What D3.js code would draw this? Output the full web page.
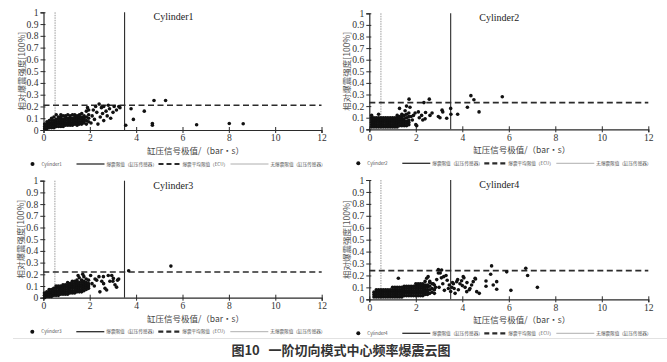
<!DOCTYPE html>
<html>
<head>
<meta charset="utf-8">
<script src="https://cdn.jsdelivr.net/npm/d3@7"></script>
<style>
  body { margin: 0; background: #fff; }
  svg { display: block; }
</style>
</head>
<body>
<svg width="667" height="362"></svg>
<script>
// cylinder names and threshold values per cylinder
const cylinders = ["Cylinder1", "Cylinder2", "Cylinder3", "Cylinder4"];
const knockLimitCPS = [3.5, 3.5, 3.5, 3.5];      // 爆震限值（缸压传感器）
const ecuMeanLimit = [0.21, 0.23, 0.22, 0.24];    // 爆震平均限值（ECU）
const noKnockLimit = [0.5, 0.5, 0.5, 0.5];        // 无爆震限值（缸压传感器）

const xTicks = [0, 2, 4, 6, 8, 10, 12];
const yTicks = [0, 0.1, 0.2, 0.3, 0.4, 0.5, 0.6, 0.7, 0.8, 0.9, 1];
const yTickLabels = ["0", "0.1", "0.2", "0.3", "0.4", "0.5", "0.6", "0.7", "0.8", "0.9", "1"];

const legendLabels = ["爆震限值（缸压传感器）", "爆震平均限值（ECU）", "无爆震限值（缸压传感器）"];

// dense part of each cloud, one entry per column: [x, y, y, y ...]
const cyl1Cols = [
  [0.05, 0.01, 0.03, 0.05], [0.15, 0.01, 0.03, 0.05, 0.07], [0.25, 0.02, 0.04, 0.06, 0.08],
  [0.35, 0.02, 0.04, 0.06, 0.08, 0.10], [0.45, 0.02, 0.04, 0.06, 0.08, 0.11],
  [0.55, 0.03, 0.05, 0.07, 0.09, 0.13], [0.65, 0.03, 0.05, 0.07, 0.09, 0.11],
  [0.75, 0.03, 0.05, 0.07, 0.09, 0.11, 0.13], [0.85, 0.03, 0.05, 0.07, 0.09, 0.12],
  [0.95, 0.04, 0.06, 0.08, 0.10, 0.12], [1.05, 0.04, 0.06, 0.08, 0.10, 0.13],
  [1.15, 0.04, 0.06, 0.08, 0.10, 0.12], [1.25, 0.04, 0.06, 0.08, 0.10, 0.13],
  [1.35, 0.05, 0.07, 0.09, 0.11, 0.13], [1.45, 0.04, 0.06, 0.08, 0.10, 0.12],
  [1.55, 0.05, 0.07, 0.09, 0.11, 0.13], [1.65, 0.05, 0.07, 0.09, 0.11, 0.14],
  [1.75, 0.06, 0.08, 0.10, 0.12], [1.85, 0.05, 0.08, 0.11, 0.16], [1.95, 0.07, 0.10, 0.13, 0.17]
];
const cyl1Pts = [
  [1.9, 0.19], [2.05, 0.06], [2.1, 0.12], [2.15, 0.17], [2.2, 0.09], [2.25, 0.2], [2.3, 0.15],
  [2.35, 0.05], [2.4, 0.22], [2.45, 0.11], [2.5, 0.19], [2.55, 0.14], [2.6, 0.08], [2.6, 0.2],
  [2.7, 0.16], [2.75, 0.12], [2.8, 0.21], [2.85, 0.18], [2.9, 0.1], [3.0, 0.15], [3.05, 0.2],
  [3.15, 0.17], [3.25, 0.2], [3.3, 0.19], [3.55, 0.04], [3.78, 0.18], [3.88, 0.09], [4.35, 0.16],
  [4.77, 0.25], [5.27, 0.25], [4.7, 0.055], [4.7, 0.04], [6.61, 0.045], [8.02, 0.055], [8.62, 0.053]
];

const cyl2Cols = [
  [0.1, 0.02, 0.04, 0.06, 0.08, 0.10, 0.12], [0.2, 0.02, 0.04, 0.06, 0.08, 0.10],
  [0.3, 0.02, 0.04, 0.06, 0.08, 0.10], [0.4, 0.02, 0.04, 0.06, 0.08, 0.10, 0.13],
  [0.5, 0.02, 0.04, 0.06, 0.08, 0.10], [0.6, 0.02, 0.04, 0.06, 0.08, 0.10],
  [0.7, 0.02, 0.04, 0.06, 0.08, 0.10], [0.8, 0.02, 0.04, 0.06, 0.08, 0.10],
  [0.9, 0.02, 0.04, 0.06, 0.08, 0.10], [1.0, 0.02, 0.04, 0.06, 0.08, 0.10],
  [1.1, 0.02, 0.04, 0.06, 0.08, 0.10], [1.2, 0.02, 0.04, 0.06, 0.08, 0.10, 0.12],
  [1.3, 0.03, 0.05, 0.07, 0.09, 0.11, 0.18], [1.4, 0.03, 0.05, 0.07, 0.09, 0.11, 0.13],
  [1.5, 0.03, 0.05, 0.07, 0.09, 0.12], [1.6, 0.03, 0.05, 0.07, 0.10, 0.13],
  [1.7, 0.04, 0.06, 0.08, 0.11, 0.14]
];
const cyl2Pts = [
  [1.54, 0.16], [1.6, 0.2], [1.71, 0.26], [1.75, 0.19], [1.8, 0.11], [1.85, 0.08], [1.9, 0.12],
  [1.97, 0.14], [2.0, 0.04], [2.04, 0.03], [2.11, 0.15], [2.15, 0.1], [2.25, 0.12], [2.3, 0.08],
  [2.35, 0.23], [2.4, 0.09], [2.42, 0.145], [2.58, 0.26], [2.61, 0.12], [2.7, 0.14], [2.97, 0.11],
  [3.04, 0.1], [3.13, 0.165], [3.16, 0.15], [3.33, 0.095], [3.5, 0.18], [3.51, 0.13], [3.8, 0.13],
  [4.22, 0.19], [4.37, 0.29], [4.5, 0.255], [4.72, 0.15], [5.72, 0.28]
];

const cyl3Cols = [
  [0.05, 0.0, 0.02, 0.04], [0.15, 0.01, 0.03, 0.05], [0.25, 0.01, 0.03, 0.05, 0.07],
  [0.35, 0.01, 0.03, 0.05, 0.07], [0.45, 0.02, 0.04, 0.06, 0.08],
  [0.55, 0.02, 0.04, 0.06, 0.08, 0.10], [0.65, 0.02, 0.04, 0.06, 0.08, 0.10],
  [0.75, 0.03, 0.05, 0.07, 0.09, 0.10], [0.85, 0.03, 0.05, 0.07, 0.09, 0.11],
  [0.95, 0.03, 0.05, 0.07, 0.09, 0.11], [1.05, 0.03, 0.05, 0.07, 0.09, 0.11, 0.13],
  [1.15, 0.04, 0.06, 0.08, 0.10, 0.12], [1.25, 0.04, 0.06, 0.08, 0.10, 0.12, 0.14],
  [1.35, 0.04, 0.06, 0.08, 0.10, 0.12, 0.14], [1.45, 0.05, 0.07, 0.09, 0.11, 0.13, 0.15],
  [1.55, 0.05, 0.07, 0.09, 0.11, 0.13, 0.17], [1.65, 0.05, 0.07, 0.09, 0.11, 0.13, 0.15],
  [1.75, 0.06, 0.08, 0.10, 0.12, 0.14, 0.18], [1.85, 0.07, 0.09, 0.11, 0.13, 0.16],
  [1.95, 0.08, 0.10, 0.12, 0.15]
];
const cyl3Pts = [
  [1.5, 0.19], [1.7, 0.2], [2.04, 0.19], [2.1, 0.12], [2.2, 0.1], [2.23, 0.16], [2.3, 0.15],
  [2.4, 0.18], [2.44, 0.05], [2.52, 0.14], [2.59, 0.18], [2.6, 0.12], [2.66, 0.08], [2.73, 0.066],
  [2.8, 0.19], [2.87, 0.14], [2.95, 0.19], [3.0, 0.14], [3.02, 0.165], [3.09, 0.11], [3.16, 0.09],
  [3.2, 0.15], [3.25, 0.16], [3.68, 0.23], [5.5, 0.27]
];

const cyl4Cols = [
  [0.2, 0.02, 0.04, 0.06], [0.3, 0.02, 0.04, 0.06, 0.08], [0.4, 0.02, 0.04, 0.06, 0.08],
  [0.5, 0.02, 0.04, 0.06, 0.08], [0.6, 0.02, 0.04, 0.06, 0.08], [0.7, 0.02, 0.04, 0.06, 0.08],
  [0.8, 0.02, 0.04, 0.06, 0.08], [0.9, 0.02, 0.04, 0.06, 0.08],
  [1.0, 0.02, 0.04, 0.06, 0.08, 0.10], [1.1, 0.02, 0.04, 0.06, 0.08, 0.10],
  [1.2, 0.02, 0.04, 0.06, 0.08, 0.10], [1.3, 0.02, 0.04, 0.06, 0.08, 0.10],
  [1.4, 0.02, 0.04, 0.06, 0.08, 0.10], [1.5, 0.03, 0.05, 0.07, 0.09, 0.11],
  [1.6, 0.03, 0.05, 0.07, 0.09, 0.11], [1.7, 0.03, 0.05, 0.07, 0.09, 0.11],
  [1.8, 0.03, 0.05, 0.07, 0.09, 0.11], [1.9, 0.03, 0.05, 0.07, 0.09, 0.11],
  [2.0, 0.03, 0.05, 0.07, 0.09, 0.11, 0.13], [2.1, 0.03, 0.05, 0.07, 0.09, 0.11, 0.13],
  [2.2, 0.03, 0.05, 0.07, 0.09, 0.11, 0.13], [2.3, 0.03, 0.05, 0.07, 0.09, 0.11, 0.13],
  [2.4, 0.04, 0.06, 0.08, 0.10, 0.12], [2.5, 0.04, 0.06, 0.08, 0.10, 0.12],
  [2.6, 0.05, 0.08, 0.11, 0.15], [2.7, 0.06, 0.09, 0.13], [2.8, 0.05, 0.08, 0.12]
];
const cyl4Pts = [
  [1.25, 0.176], [2.4, 0.15], [2.47, 0.176], [2.53, 0.19], [2.6, 0.14], [2.75, 0.13], [2.85, 0.1],
  [2.9, 0.165], [2.97, 0.22], [2.97, 0.25], [3.0, 0.1], [3.05, 0.22], [3.1, 0.18], [3.11, 0.245],
  [3.16, 0.13], [3.2, 0.19], [3.23, 0.075], [3.3, 0.2], [3.35, 0.16], [3.4, 0.09], [3.44, 0.12],
  [3.5, 0.065], [3.55, 0.1], [3.58, 0.14], [3.62, 0.13], [3.65, 0.09], [3.69, 0.05], [3.76, 0.148],
  [3.8, 0.165], [3.83, 0.08], [3.9, 0.13], [3.97, 0.156], [4.0, 0.115], [4.04, 0.19], [4.07, 0.18],
  [4.12, 0.1], [4.19, 0.064], [4.2, 0.14], [4.3, 0.08], [4.33, 0.09], [4.4, 0.12], [4.47, 0.148],
  [4.55, 0.176], [4.57, 0.17], [4.62, 0.064], [4.73, 0.05], [5.02, 0.153], [5.02, 0.11],
  [5.22, 0.21], [5.26, 0.28], [5.33, 0.12], [5.48, 0.148], [5.48, 0.084], [5.91, 0.23],
  [6.09, 0.075], [6.73, 0.26], [6.81, 0.2], [7.23, 0.1]
];

const allCols = [cyl1Cols, cyl2Cols, cyl3Cols, cyl4Cols];
const allPts = [cyl1Pts, cyl2Pts, cyl3Pts, cyl4Pts];

// panel frames in page pixels (plot area only)
const frames = [
  { left: 43.5, right: 321.5, bottom: 130, top: 12.3 },
  { left: 369.3, right: 648.3, bottom: 129.3, top: 13.3 },
  { left: 43.3, right: 321.7, bottom: 297.7, top: 180.7 },
  { left: 369.3, right: 648.3, bottom: 299.3, top: 180 }
];

const svg = d3.select("svg");
const ink = "#2b2b2b";
const serif = "'Liberation Serif', 'Times New Roman', serif";
const cjk = "'Noto Sans CJK SC', sans-serif";

cylinders.forEach((name, i) => {
  const f = frames[i];
  const x = d3.scaleLinear().domain([0, 12]).range([f.left, f.right]);
  const y = d3.scaleLinear().domain([0, 1]).range([f.bottom, f.top]);
  const g = svg.append("g");

  // flatten the columns into points
  const pts = [];
  allCols[i].forEach((c) => c.slice(1).forEach((v) => pts.push([c[0], v])));
  allPts[i].forEach((p) => pts.push(p));

  // axes
  const xAxis = g.append("g")
    .attr("transform", `translate(0,${f.bottom})`)
    .call(d3.axisBottom(x).tickValues(xTicks).tickSize(3).tickPadding(1.5).tickFormat(d3.format("d")));
  xAxis.selectAll(".tick line").attr("y1", -3);
  const yAxis = g.append("g")
    .attr("transform", `translate(${f.left},0)`)
    .call(d3.axisLeft(y).tickValues(yTicks).tickSize(3).tickFormat((d, k) => yTickLabels[k]));
  yAxis.selectAll(".tick line").attr("x1", 2);
  [xAxis, yAxis].forEach((a) => {
    a.select(".domain").attr("stroke", ink).attr("stroke-width", 1.2);
    a.selectAll(".tick line").attr("stroke", ink);
    a.selectAll("text").attr("fill", "#333").style("font-family", serif).style("font-size", "9.6px");
  });
  yAxis.selectAll("text").attr("dx", "1px");

  // threshold lines
  g.append("line")
    .attr("x1", x(noKnockLimit[i])).attr("x2", x(noKnockLimit[i]))
    .attr("y1", y(1)).attr("y2", y(0))
    .attr("stroke", "#9a9a9a").attr("stroke-width", 1).attr("stroke-dasharray", "1.5,1");
  g.append("line")
    .attr("x1", x(knockLimitCPS[i])).attr("x2", x(knockLimitCPS[i]))
    .attr("y1", y(1)).attr("y2", y(0))
    .attr("stroke", ink).attr("stroke-width", 1.1);
  g.append("line")
    .attr("x1", x(0)).attr("x2", x(12))
    .attr("y1", y(ecuMeanLimit[i])).attr("y2", y(ecuMeanLimit[i]))
    .attr("stroke", ink).attr("stroke-width", 1.6).attr("stroke-dasharray", "6,3.5");

  // scatter
  g.append("g").selectAll("circle")
    .data(pts)
    .join("circle")
    .attr("cx", (d) => x(d[0]))
    .attr("cy", (d) => y(d[1]))
    .attr("r", 1.8)
    .attr("fill", "#111");

  // titles
  g.append("text")
    .attr("x", f.left + 110).attr("y", f.top + 8)
    .attr("fill", "#222").style("font-family", serif).style("font-size", "10px")
    .text(name);
  g.append("text")
    .attr("x", (f.left + f.right) / 2 + 13).attr("y", f.bottom + 24)
    .attr("text-anchor", "middle").attr("fill", "#444")
    .style("font-family", cjk).style("font-size", "8.5px")
    .text("缸压信号极值/（bar•s）");
  g.append("text")
    .attr("transform", `translate(${f.left - 19},${(f.top + f.bottom) / 2}) rotate(-90)`)
    .attr("text-anchor", "middle").attr("fill", "#555")
    .style("font-family", cjk).style("font-size", "8.5px")
    .text("相对爆震强度[100%]");

  // legend
  const ly = f.bottom + 34;
  const lg = g.append("g").attr("transform", `translate(${f.left},${ly})`);
  lg.append("circle").attr("cx", -11).attr("cy", 0).attr("r", 2).attr("fill", "#111");
  lg.append("text").attr("x", -2).attr("y", 1.5).text(name);
  lg.append("line").attr("x1", 33).attr("x2", 61).attr("stroke", ink).attr("stroke-width", 1.3);
  lg.append("text").attr("x", 63).attr("y", 1.5).text(legendLabels[0]);
  lg.append("line").attr("x1", 115).attr("x2", 137).attr("stroke", ink)
    .attr("stroke-width", 2.2).attr("stroke-dasharray", "5,3");
  lg.append("text").attr("x", 139).attr("y", 1.5).text(legendLabels[1]);
  lg.append("line").attr("x1", 187).attr("x2", 225).attr("stroke", "#9a9a9a").attr("stroke-width", 0.8);
  lg.append("text").attr("x", 227).attr("y", 1.5).text(legendLabels[2]);
  lg.selectAll("text").attr("fill", "#555").style("font-family", cjk).style("font-size", "4.6px");
});

// faint frame rule under the figure
svg.append("line").attr("x1", 13).attr("x2", 667).attr("y1", 338.5).attr("y2", 338.5)
  .attr("stroke", "#e2e2e2").attr("stroke-width", 1);

svg.append("text")
  .attr("x", 341).attr("y", 355)
  .attr("text-anchor", "middle").attr("fill", "#333")
  .style("font-family", cjk).style("font-size", "13px").style("font-weight", "bold")
  .attr("xml:space", "preserve")
  .text("图10   一阶切向模式中心频率爆震云图");
</script>
</body>
</html>
